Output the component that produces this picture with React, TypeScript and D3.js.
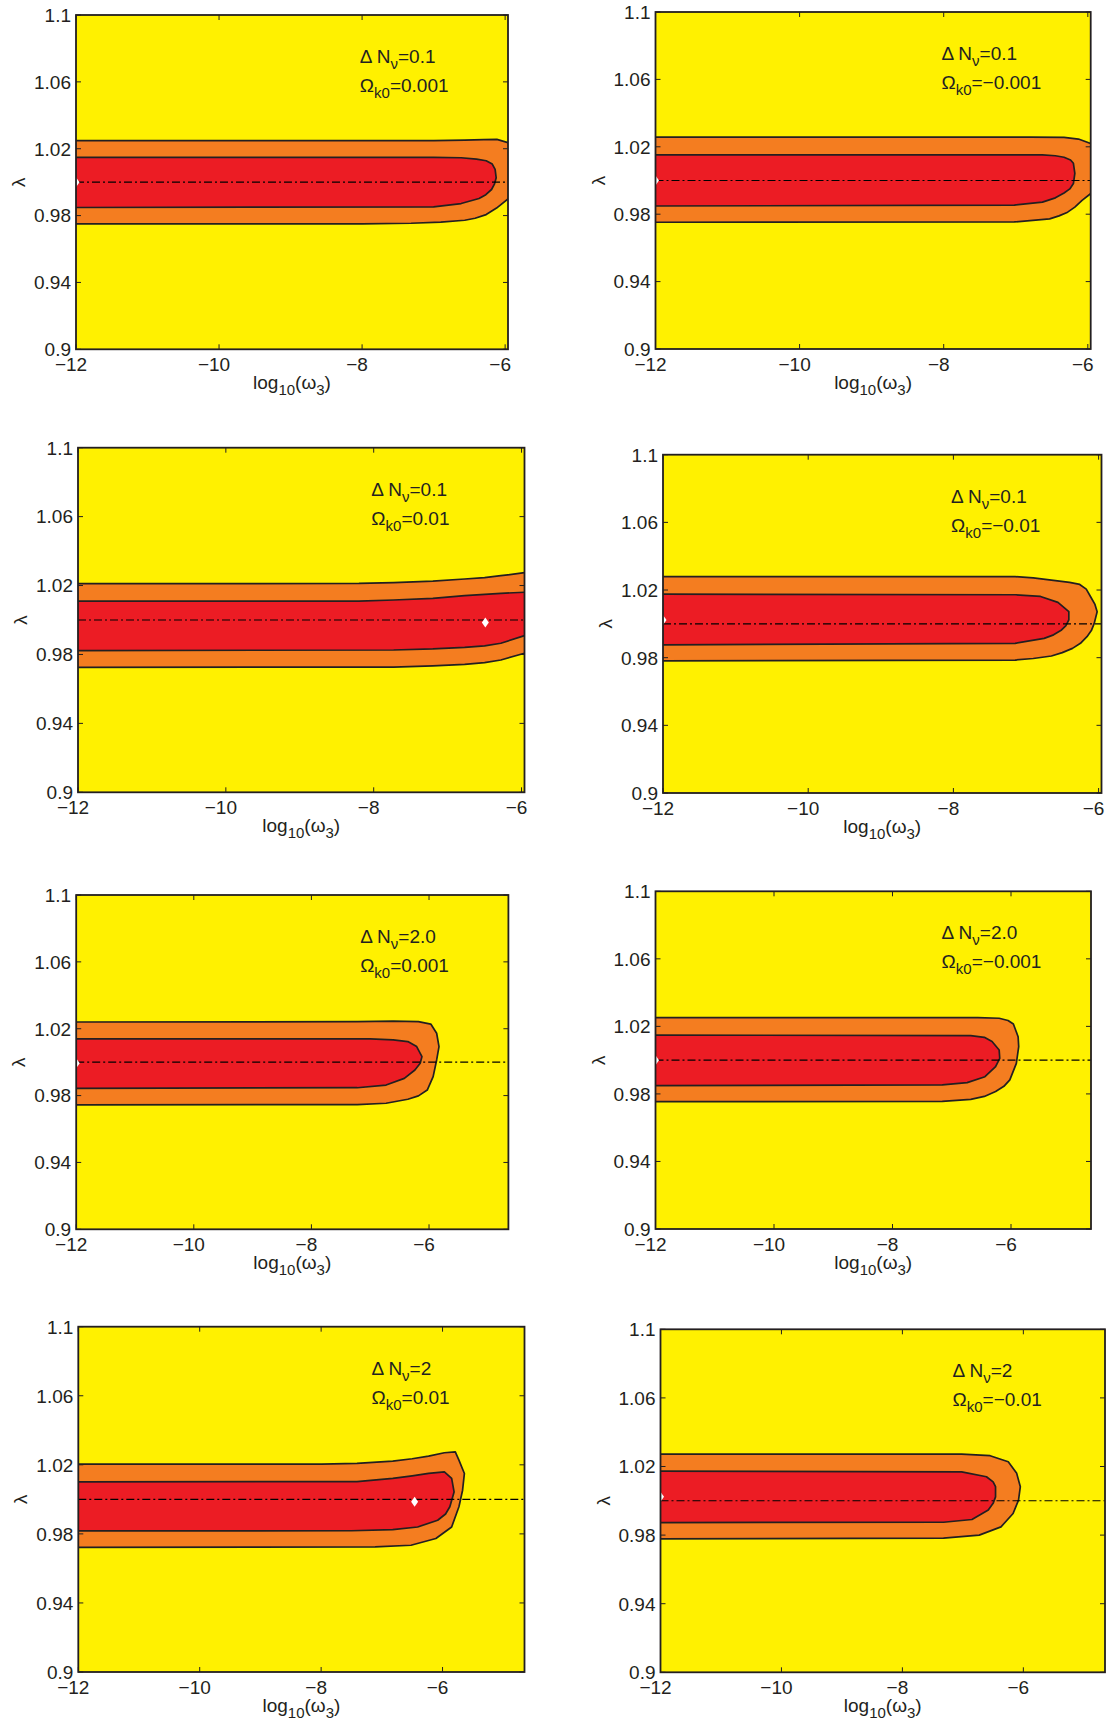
import React, { useEffect } from "react";
import * as d3 from "d3";

// ---------- data ----------
const yTickValues = [0.9, 0.94, 0.98, 1.02, 1.06, 1.1];
const yTickLabels = ["0.9", "0.94", "0.98", "1.02", "1.06", "1.1"];
const xTickValues = [-12, -10, -8, -6];
const xTickLabels = ["\u221212", "\u221210", "\u22128", "\u22126"];
const yDomain = [0.9, 1.1];
const xDomainMin = -12;
const xDomainMax = [-5.96, -5.96, -5.96, -5.96, -4.65, -4.65, -4.65, -4.65];
const deltaN = ["0.1", "0.1", "0.1", "0.1", "2.0", "2.0", "2", "2"];
const omegaK0 = ["0.001", "\u22120.001", "0.01", "\u22120.01", "0.001", "\u22120.001", "0.01", "\u22120.01"];
const referenceLambda = 1.0;
const bestFitX = [-12, -12, -6.49, -12, -12, -12, -6.46, -12];
const bestFitLambda = [1.0, 1.0, 0.9986, 1.0023, 0.9993, 1.0, 0.9986, 1.0023];

// contour polygons [log10(omega3), lambda]; outer = 2 sigma, inner = 1 sigma
const outer1 = [[-12.5, 1.0248], [-7.0, 1.0248], [-6.565, 1.0252], [-6.3, 1.0255], [-6.115, 1.0256], [-5.96, 1.0236], [-5.88, 1.012], [-5.86, 1.0], [-5.9, 0.994], [-5.96, 0.99], [-6.12, 0.9845], [-6.265, 0.9806], [-6.42, 0.9784], [-6.565, 0.9772], [-6.9, 0.9761], [-7.315, 0.9754], [-8.0, 0.975], [-12.5, 0.975]];
const inner1 = [[-12.5, 1.0148], [-7.0, 1.0148], [-6.615, 1.0146], [-6.4, 1.0138], [-6.265, 1.0128], [-6.18, 1.0108], [-6.14, 1.0076], [-6.125, 1.0026], [-6.15, 0.9988], [-6.19, 0.9956], [-6.27, 0.9925], [-6.365, 0.9902], [-6.615, 0.9872], [-7.0, 0.9852], [-12.5, 0.9848]];
const outer2 = [[-12.5, 1.0258], [-6.8, 1.0258], [-6.33, 1.0256], [-6.13, 1.0246], [-5.95, 1.0218], [-5.87, 1.01], [-5.86, 1.0], [-5.95, 0.9926], [-6.08, 0.9882], [-6.18, 0.9842], [-6.28, 0.9812], [-6.4, 0.979], [-6.53, 0.9772], [-7.02, 0.9754], [-12.5, 0.9752]];
const inner2 = [[-12.5, 1.0152], [-6.63, 1.0152], [-6.45, 1.0147], [-6.33, 1.0138], [-6.24, 1.0122], [-6.2, 1.0102], [-6.18, 1.0042], [-6.2, 0.9982], [-6.25, 0.995], [-6.33, 0.9926], [-6.45, 0.9897], [-6.63, 0.9872], [-7.02, 0.9854], [-12.5, 0.9848]];
const outer3 = [[-12.5, 1.0211], [-8.2, 1.0212], [-7.73, 1.0217], [-7.2, 1.0226], [-6.77, 1.0238], [-6.5, 1.0246], [-6.28, 1.0257], [-5.96, 1.0275], [-5.5, 1.03], [-5.5, 0.985], [-5.96, 0.9807], [-6.28, 0.9768], [-6.5, 0.9753], [-6.77, 0.9743], [-7.2, 0.9734], [-7.73, 0.9727], [-12.5, 0.9725]];
const inner3 = [[-12.5, 1.011], [-8.2, 1.011], [-7.73, 1.0116], [-7.2, 1.0126], [-6.77, 1.0141], [-6.28, 1.0155], [-5.96, 1.0161], [-5.5, 1.017], [-5.5, 0.996], [-5.96, 0.9909], [-6.28, 0.9865], [-6.5, 0.985], [-6.77, 0.9841], [-7.2, 0.9832], [-7.73, 0.9826], [-12.5, 0.9822]];
const outer4 = [[-12.5, 1.0279], [-7.15, 1.0279], [-6.9, 1.0272], [-6.65, 1.0259], [-6.4, 1.0245], [-6.26, 1.0233], [-6.17, 1.0205], [-6.11, 1.016], [-6.05, 1.0115], [-6.02, 1.0072], [-6.06, 1.0003], [-6.1, 0.996], [-6.16, 0.9924], [-6.25, 0.9885], [-6.36, 0.9855], [-6.5, 0.983], [-6.65, 0.981], [-6.9, 0.9795], [-7.15, 0.9786], [-12.5, 0.978]];
const inner4 = [[-12.5, 1.0176], [-7.15, 1.0172], [-6.8, 1.0162], [-6.56, 1.0127], [-6.41, 1.0072], [-6.41, 1.0023], [-6.45, 0.999], [-6.51, 0.9964], [-6.62, 0.9935], [-6.75, 0.9914], [-7.15, 0.9885], [-12.5, 0.9875]];
const outer5 = [[-12.5, 1.024], [-7.22, 1.0242], [-6.61, 1.0246], [-6.18, 1.0242], [-5.97, 1.0228], [-5.87, 1.0173], [-5.83, 1.0093], [-5.87, 1.0013], [-5.93, 0.9913], [-6.03, 0.9833], [-6.18, 0.9798], [-6.36, 0.9778], [-6.73, 0.9754], [-7.22, 0.9746], [-12.5, 0.9744]];
const inner5 = [[-12.5, 1.0139], [-7.0, 1.0139], [-6.61, 1.0133], [-6.36, 1.0123], [-6.21, 1.0093], [-6.12, 1.0033], [-6.15, 0.9993], [-6.24, 0.9953], [-6.42, 0.9903], [-6.73, 0.9863], [-7.22, 0.9847], [-12.5, 0.9843]];
const outer6 = [[-12.5, 1.0252], [-6.56, 1.0252], [-6.2, 1.0248], [-6.05, 1.0235], [-5.96, 1.0214], [-5.88, 1.0139], [-5.87, 1.008], [-5.91, 0.9981], [-6.02, 0.9883], [-6.12, 0.9845], [-6.26, 0.9814], [-6.45, 0.9785], [-6.68, 0.9768], [-7.16, 0.9756], [-12.5, 0.9754]];
const inner6 = [[-12.5, 1.0149], [-6.68, 1.0145], [-6.45, 1.0135], [-6.32, 1.011], [-6.2, 1.006], [-6.19, 1.0011], [-6.26, 0.9962], [-6.44, 0.9902], [-6.74, 0.9867], [-7.16, 0.9853], [-12.5, 0.9849]];
const outer7 = [[-12.5, 1.0204], [-7.99, 1.0204], [-7.41, 1.0208], [-6.82, 1.0221], [-6.5, 1.0235], [-6.23, 1.025], [-5.97, 1.027], [-5.79, 1.0275], [-5.73, 1.0227], [-5.64, 1.015], [-5.67, 1.0053], [-5.73, 0.9957], [-5.85, 0.984], [-6.11, 0.9773], [-6.52, 0.9734], [-7.11, 0.9725], [-12.5, 0.9721]];
const inner7 = [[-12.5, 1.0101], [-7.41, 1.0103], [-6.82, 1.0121], [-6.5, 1.0136], [-6.23, 1.015], [-5.97, 1.0159], [-5.85, 1.0121], [-5.81, 1.0043], [-5.88, 0.9957], [-5.95, 0.9915], [-6.08, 0.9879], [-6.41, 0.984], [-6.82, 0.9825], [-7.5, 0.9818], [-12.5, 0.9817]];
const outer8 = [[-12.5, 1.0272], [-7.02, 1.0272], [-6.55, 1.0263], [-6.25, 1.0228], [-6.11, 1.016], [-6.05, 1.0082], [-6.08, 1.0004], [-6.17, 0.9926], [-6.37, 0.9848], [-6.73, 0.98], [-7.32, 0.9782], [-12.5, 0.9778]];
const inner8 = [[-12.5, 1.0173], [-7.02, 1.0169], [-6.61, 1.014], [-6.5, 1.011], [-6.46, 1.0082], [-6.46, 1.0023], [-6.5, 0.9985], [-6.58, 0.9946], [-6.85, 0.9891], [-7.32, 0.9875], [-12.5, 0.9873]];

const outerContours = [outer1, outer2, outer3, outer4, outer5, outer6, outer7, outer8];
const innerContours = [inner1, inner2, inner3, inner4, inner5, inner6, inner7, inner8];

// ---------- layout (pixel boxes of each panel) ----------
const panelBoxes = [
  { x0: 76, x1: 508, y0: 15, y1: 349.3 },
  { x0: 655.5, x1: 1090.7, y0: 12, y1: 349 },
  { x0: 78, x1: 524.5, y0: 447.7, y1: 792.3 },
  { x0: 663, x1: 1101.5, y0: 454.7, y1: 793 },
  { x0: 76.2, x1: 508.4, y0: 895, y1: 1229.3 },
  { x0: 655.5, x1: 1091, y0: 891.3, y1: 1229 },
  { x0: 78.3, x1: 524.5, y0: 1326.7, y1: 1672 },
  { x0: 660.5, x1: 1105, y0: 1329.3, y1: 1672.3 },
];

const YELLOW = "#FFF100";
const ORANGE = "#F47D20";
const RED = "#EC1C24";
const INK = "#231F20";
const FONT = "'Liberation Sans', Arial, Helvetica, sans-serif";
const FS = 19;
const SUB = 15;

function Panel({ i }: { i: number }) {
  const b = panelBoxes[i];
  const x = d3.scaleLinear().domain([xDomainMin, xDomainMax[i]]).range([b.x0, b.x1]);
  const y = d3.scaleLinear().domain(yDomain).range([b.y1, b.y0]);
  const line = d3
    .line<number[]>()
    .x((d) => x(d[0]))
    .y((d) => y(d[1]))
    .curve(d3.curveLinearClosed);
  const clipId = `clip-${i}`;
  const w = b.x1 - b.x0;
  const cx = (b.x0 + b.x1) / 2;
  const cy = (b.y0 + b.y1) / 2;
  const tick = 5;
  const bx = x(bestFitX[i]);
  const by = y(bestFitLambda[i]);
  const annX = b.x0 + 0.657 * w;
  return (
    <g>
      <defs>
        <clipPath id={clipId}>
          <rect x={b.x0} y={b.y0} width={w} height={b.y1 - b.y0} />
        </clipPath>
      </defs>
      <rect x={b.x0} y={b.y0} width={w} height={b.y1 - b.y0} fill={YELLOW} />
      <g clipPath={`url(#${clipId})`}>
        <path d={line(outerContours[i]) || ""} fill={ORANGE} stroke={INK} strokeWidth={1.7} strokeLinejoin="round" />
        <path d={line(innerContours[i]) || ""} fill={RED} stroke={INK} strokeWidth={1.7} strokeLinejoin="round" />
        <line
          x1={b.x0}
          x2={b.x1}
          y1={y(referenceLambda)}
          y2={y(referenceLambda)}
          stroke="#000"
          strokeWidth={1.1}
          strokeDasharray="8,3,2,3"
        />
        <path
          d={`M${bx},${by - 5}L${bx + 3.5},${by}L${bx},${by + 5}L${bx - 3.5},${by}Z`}
          fill="#fff"
        />
      </g>
      {yTickValues.map((v, k) => (
        <g key={`yt${k}`}>
          <line x1={b.x0} x2={b.x0 + tick} y1={y(v)} y2={y(v)} stroke={INK} strokeWidth={1} />
          <line x1={b.x1} x2={b.x1 - tick} y1={y(v)} y2={y(v)} stroke={INK} strokeWidth={1} />
          <text
            x={b.x0 - 5}
            y={y(v)}
            dy="0.36em"
            textAnchor="end"
            fontFamily={FONT}
            fontSize={FS}
            fill={INK}
          >
            {yTickLabels[k]}
          </text>
        </g>
      ))}
      {xTickValues.map((v, k) => (
        <g key={`xt${k}`}>
          <line x1={x(v)} x2={x(v)} y1={b.y1} y2={b.y1 - tick} stroke={INK} strokeWidth={1} />
          <line x1={x(v)} x2={x(v)} y1={b.y0} y2={b.y0 + tick} stroke={INK} strokeWidth={1} />
          <text
            x={x(v) - 5}
            y={b.y1 + 22}
            textAnchor="middle"
            fontFamily={FONT}
            fontSize={FS}
            fill={INK}
          >
            {xTickLabels[k]}
          </text>
        </g>
      ))}
      <rect
        x={b.x0}
        y={b.y0}
        width={w}
        height={b.y1 - b.y0}
        fill="none"
        stroke={INK}
        strokeWidth={1.8}
      />
      <text x={cx} y={b.y1 + 40} textAnchor="middle" fontFamily={FONT} fontSize={FS} fill={INK}>
        log
        <tspan fontSize={SUB} dy={6}>
          10
        </tspan>
        <tspan dy={-6}>(ω</tspan>
        <tspan fontSize={SUB} dy={6}>
          3
        </tspan>
        <tspan dy={-6}>)</tspan>
      </text>
      <text
        transform={`translate(${b.x0 - 51},${cy}) rotate(-90)`}
        textAnchor="middle"
        fontFamily={FONT}
        fontSize={FS}
        fill={INK}
      >
        λ
      </text>
      <text x={annX} y={b.y0 + 48} fontFamily={FONT} fontSize={FS} fill={INK}>
        Δ N
        <tspan fontSize={SUB} dy={6}>
          ν
        </tspan>
        <tspan dy={-6}>={deltaN[i]}</tspan>
      </text>
      <text x={annX} y={b.y0 + 77} fontFamily={FONT} fontSize={FS} fill={INK}>
        Ω
        <tspan fontSize={SUB} dy={6}>
          k0
        </tspan>
        <tspan dy={-6}>={omegaK0[i]}</tspan>
      </text>
    </g>
  );
}

export default function App() {
  useEffect(() => {
    document.body.style.margin = "0";
  }, []);
  return (
    <div style={{ position: "absolute", left: 0, top: 0 }}>
      <svg width={1109} height={1725} style={{ display: "block", background: "#fff" }}>
        {panelBoxes.map((_, i) => (
          <Panel key={i} i={i} />
        ))}
      </svg>
    </div>
  );
}
